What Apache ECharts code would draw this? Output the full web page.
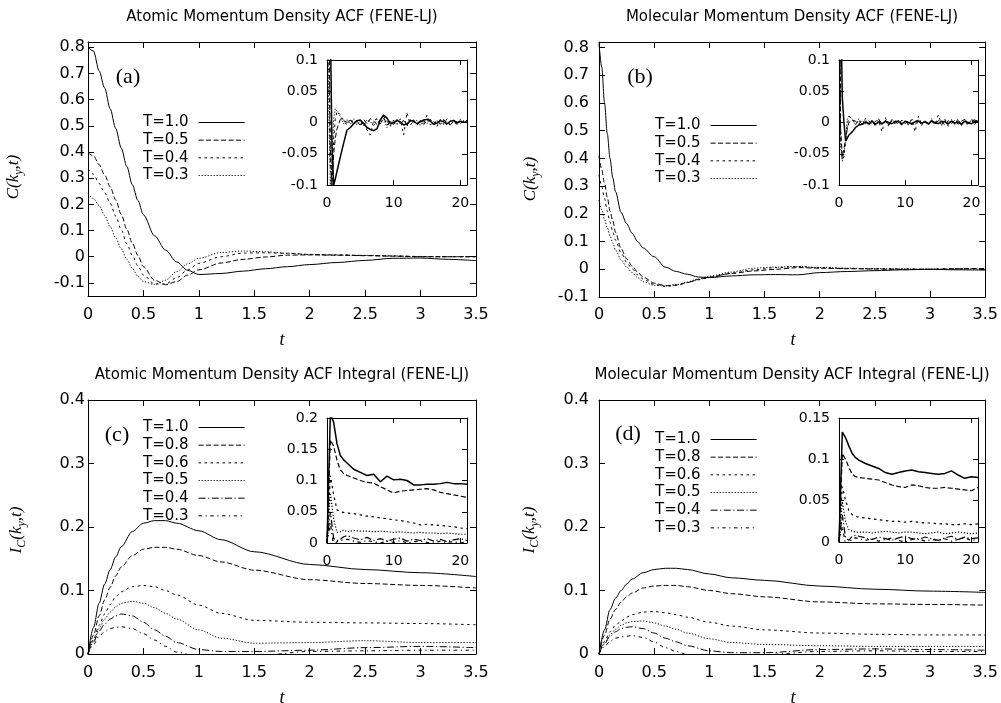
<!DOCTYPE html>
<html><head><meta charset="utf-8">
<script src="https://cdn.jsdelivr.net/npm/echarts@6/dist/echarts.min.js"></script>
<style>html,body{margin:0;padding:0;background:#fff}#c{width:1001px;height:703px}</style>
</head><body><div id="c"></div><script>
// ---------- tick labels ----------
const xTicksMain=[0,0.5,1,1.5,2,2.5,3,3.5];
const yTicksAB=[-0.1,0,0.1,0.2,0.3,0.4,0.5,0.6,0.7,0.8];
const yTicksCD=[0,0.1,0.2,0.3,0.4];
const xTicksInset=[0,10,20];
const yTicksInsetAB=[-0.1,-0.05,0,0.05,0.1];
const yTicksInsetC=[0,0.05,0.1,0.15,0.2];
const yTicksInsetD=[0,0.05,0.1,0.15];

// ---------- panel (a) main ----------
const tA=[0,0.05,0.1,0.15,0.2,0.25,0.3,0.35,0.4,0.45,0.5,0.6,0.7,0.8,0.9,1.0,1.2,1.4,1.6,1.8,2.0,2.25,2.5,2.75,3.0,3.25,3.5];
const a_T10=[0.8,0.785,0.71,0.645,0.565,0.49,0.415,0.345,0.275,0.215,0.16,0.08,0.025,-0.02,-0.052,-0.068,-0.064,-0.055,-0.046,-0.038,-0.03,-0.022,-0.014,-0.006,-0.005,-0.01,-0.015];
const a_T05=[0.397,0.385,0.352,0.312,0.267,0.217,0.162,0.105,0.052,0.005,-0.038,-0.09,-0.107,-0.095,-0.07,-0.05,-0.024,-0.01,-0.001,0.006,0.007,0.006,0.004,0.002,0.0,0.0,0.0];
const a_T04=[0.335,0.315,0.28,0.245,0.204,0.155,0.103,0.05,0.005,-0.035,-0.07,-0.104,-0.104,-0.08,-0.05,-0.025,0.0,0.014,0.015,0.013,0.009,0.007,0.005,0.003,0.001,0.0,0.0];
const a_T03=[0.24,0.222,0.196,0.158,0.115,0.072,0.03,-0.01,-0.045,-0.075,-0.095,-0.106,-0.09,-0.057,-0.027,-0.006,0.016,0.022,0.019,0.013,0.008,0.006,0.005,0.003,0.0,0.0,0.001];

// ---------- panel (b) main ----------
const tB=[0,0.025,0.05,0.075,0.1,0.125,0.15,0.2,0.25,0.3,0.35,0.4,0.5,0.6,0.7,0.8,0.9,1.0,1.2,1.4,1.6,1.8,2.0,2.25,2.5,2.75,3.0,3.25,3.5];
const b_T10=[0.815,0.73,0.6,0.49,0.4,0.33,0.28,0.205,0.165,0.13,0.1,0.077,0.045,0.008,-0.008,-0.018,-0.028,-0.03,-0.024,-0.02,-0.019,-0.02,-0.012,-0.008,-0.005,-0.002,0.0,-0.002,-0.003];
const b_T05=[0.41,0.36,0.31,0.26,0.21,0.175,0.133,0.075,0.038,0.012,-0.01,-0.028,-0.05,-0.059,-0.057,-0.048,-0.037,-0.028,-0.015,-0.006,0.0,0.006,0.004,0.002,0.001,0.0,0.0,0.002,0.003];
const b_T04=[0.34,0.3,0.255,0.21,0.17,0.135,0.105,0.06,0.025,0.002,-0.02,-0.035,-0.055,-0.062,-0.058,-0.048,-0.038,-0.03,-0.014,-0.002,0.006,0.01,0.006,0.003,0.002,0.001,0.0,0.002,0.003];
const b_T03=[0.25,0.215,0.18,0.15,0.12,0.095,0.07,0.035,0.008,-0.012,-0.03,-0.045,-0.058,-0.06,-0.055,-0.046,-0.035,-0.025,-0.01,0.004,0.008,0.01,0.006,0.004,0.002,0.001,0.0,0.001,0.002];

// ---------- panels (c),(d) main ----------
const tC=[0,0.05,0.1,0.15,0.2,0.25,0.3,0.4,0.5,0.6,0.7,0.8,1.0,1.2,1.5,2.0,2.5,3.0,3.5];
const c_T10=[0,0.042,0.08,0.11,0.133,0.153,0.169,0.193,0.206,0.21,0.21,0.206,0.194,0.18,0.161,0.141,0.133,0.128,0.122];
const c_T08=[0,0.03,0.06,0.085,0.105,0.123,0.137,0.155,0.165,0.168,0.168,0.165,0.155,0.145,0.132,0.117,0.111,0.108,0.104];
const c_T06=[0,0.024,0.045,0.063,0.078,0.09,0.098,0.106,0.108,0.106,0.1,0.093,0.077,0.064,0.053,0.05,0.049,0.048,0.046];
const c_T05=[0,0.021,0.04,0.055,0.066,0.074,0.08,0.083,0.08,0.073,0.064,0.055,0.038,0.025,0.017,0.018,0.021,0.018,0.018];
const c_T04=[0,0.019,0.036,0.047,0.055,0.06,0.063,0.06,0.05,0.038,0.028,0.018,0.007,0.004,0.004,0.006,0.01,0.012,0.01];
const c_T03=[0,0.015,0.028,0.035,0.04,0.042,0.043,0.04,0.032,0.022,0.012,0.003,-0.005,-0.008,-0.003,0.004,0.005,0.006,0.006];
const d_T10=[0,0.038,0.07,0.088,0.1,0.11,0.118,0.128,0.133,0.135,0.135,0.133,0.126,0.12,0.116,0.107,0.102,0.099,0.097];
const d_T08=[0,0.03,0.055,0.07,0.082,0.09,0.096,0.104,0.107,0.108,0.108,0.106,0.1,0.095,0.09,0.082,0.079,0.078,0.077];
const d_T06=[0,0.02,0.035,0.045,0.052,0.058,0.062,0.066,0.067,0.065,0.062,0.058,0.05,0.044,0.038,0.033,0.031,0.03,0.03];
const d_T05=[0,0.017,0.03,0.039,0.045,0.049,0.051,0.052,0.049,0.044,0.039,0.033,0.024,0.018,0.015,0.013,0.012,0.012,0.012];
const d_T04=[0,0.016,0.028,0.035,0.04,0.042,0.043,0.04,0.033,0.025,0.019,0.013,0.005,0.002,0.002,0.007,0.008,0.007,0.006];
const d_T03=[0,0.012,0.02,0.025,0.027,0.028,0.029,0.026,0.019,0.01,0.004,-0.001,-0.005,-0.004,-0.001,0.004,0.005,0.004,0.004];

// ---------- insets (a),(b) ----------
const tIA=[0,0.25,0.5,0.75,1,1.25,1.5,2,2.5,3,3.5,4,4.5,5,5.5,6,6.5,7,7.5,8,8.5,9,9.5,10,10.5,11,11.5,12,12.5,13,13.5,14,14.5,15,15.5,16,16.5,17,17.5,18,18.5,19,19.5,20,20.5,21];
const ia_T10=[0.8,0.55,0.16,-0.04,-0.1,-0.09,-0.078,-0.055,-0.033,-0.012,-0.008,-0.002,0.003,0.004,-0.002,-0.008,-0.011,-0.013,-0.01,0.004,0.012,0.007,-0.002,0.0,0.003,0.001,-0.004,-0.002,0.003,0.002,-0.002,0.001,0.004,0.005,0.002,-0.003,-0.001,0.003,0.001,-0.002,0.002,0.003,-0.001,0.002,0.001,0.0];
const ia_T05=[0.4,0.2,-0.04,-0.1,-0.05,-0.025,-0.01,0.005,0.003,0.0,0.004,-0.003,0.002,-0.004,0.005,-0.002,0.006,0.002,-0.003,0.005,0.008,-0.004,0.002,-0.003,0.005,-0.002,0.003,-0.004,0.002,0.004,-0.002,0.003,-0.003,0.002,0.005,-0.002,0.003,-0.003,0.004,0.0,-0.004,0.003,0.001,-0.002,0.003,0.0];
const ia_T04=[0.335,0.12,-0.07,-0.1,-0.025,0.005,0.018,0.012,0.003,-0.004,0.006,-0.002,0.004,-0.006,0.002,-0.012,-0.02,0.003,0.006,-0.004,0.01,0.002,-0.006,0.004,-0.003,0.006,-0.02,0.016,-0.004,0.003,-0.005,0.004,-0.002,0.012,-0.004,0.002,-0.006,0.005,-0.003,0.006,-0.005,0.003,-0.004,0.005,-0.002,0.004];
const ia_T03=[0.24,0.03,-0.1,-0.06,0.005,0.022,0.02,0.01,-0.002,0.005,-0.003,0.006,-0.004,0.003,-0.005,0.004,0.002,-0.006,0.005,-0.002,0.006,-0.008,0.003,-0.004,0.005,-0.003,0.004,-0.006,0.006,-0.002,0.004,-0.005,0.003,-0.002,0.005,-0.004,0.003,-0.002,0.005,-0.004,0.003,0.004,-0.003,0.005,-0.001,0.003];
const ib_T10=[0.82,0.2,0.04,0.0,-0.03,-0.025,-0.02,-0.015,-0.008,-0.004,-0.003,0.001,-0.002,0.002,-0.003,0.001,-0.002,0.002,0.0,-0.002,0.002,0.001,-0.002,0.002,0.0,-0.002,0.001,0.002,-0.001,0.001,-0.002,0.002,0.0,-0.002,0.002,0.001,-0.002,0.002,-0.001,0.001,-0.003,0.002,0.0,-0.002,0.002,0.001];
const ib_T05=[0.41,-0.01,-0.055,-0.058,-0.028,-0.01,0.0,0.004,0.002,-0.003,0.004,-0.002,0.003,-0.004,0.002,0.005,-0.003,0.002,-0.004,0.003,0.001,-0.003,0.004,-0.002,0.003,-0.004,0.002,0.004,-0.003,0.002,-0.002,0.004,-0.003,0.003,0.001,-0.004,0.003,-0.002,0.004,-0.003,0.002,0.005,-0.002,0.003,0.004,0.002];
const ib_T04=[0.34,-0.025,-0.06,-0.055,-0.03,-0.005,0.01,0.006,-0.003,0.004,-0.005,0.007,-0.003,0.004,-0.006,0.003,-0.015,0.008,-0.004,0.005,-0.003,0.004,-0.005,0.003,-0.004,0.005,-0.015,0.01,-0.003,0.004,-0.005,0.003,-0.004,0.012,-0.003,0.005,-0.006,0.004,-0.003,0.006,-0.004,0.003,-0.005,0.006,-0.002,0.004];
const ib_T03=[0.25,-0.04,-0.062,-0.05,-0.025,0.005,0.01,0.005,-0.004,0.006,-0.003,0.005,-0.005,0.003,-0.004,0.006,-0.003,0.004,-0.006,0.005,-0.002,0.004,-0.005,0.003,-0.004,0.006,-0.003,0.004,-0.005,0.003,-0.004,0.006,-0.002,0.004,-0.005,0.003,-0.004,0.005,-0.003,0.004,-0.005,0.006,-0.003,0.004,-0.004,0.005];

// ---------- insets (c),(d) ----------
const tIC=[0,0.5,1,1.5,2,2.5,3,4,5,6,7,8,9,10,11,12,13,14,15,16,17,18,19,20,21];
const ic_T10=[0,0.206,0.193,0.159,0.14,0.133,0.128,0.118,0.113,0.108,0.11,0.098,0.107,0.101,0.102,0.1,0.093,0.093,0.094,0.094,0.095,0.097,0.095,0.095,0.094];
const ic_T08=[0,0.165,0.155,0.132,0.117,0.111,0.108,0.104,0.1,0.097,0.096,0.09,0.085,0.08,0.083,0.084,0.085,0.086,0.087,0.085,0.081,0.079,0.077,0.075,0.073];
const ic_T06=[0,0.108,0.077,0.053,0.05,0.049,0.048,0.047,0.045,0.043,0.042,0.04,0.039,0.037,0.036,0.034,0.032,0.029,0.03,0.029,0.028,0.027,0.026,0.024,0.023];
const ic_T05=[0,0.08,0.038,0.017,0.018,0.021,0.018,0.02,0.019,0.019,0.018,0.019,0.018,0.017,0.018,0.017,0.016,0.017,0.016,0.016,0.015,0.016,0.015,0.014,0.014];
const ic_T04=[0,0.05,0.007,0.004,0.006,0.01,0.012,0.008,0.005,0.009,0.004,0.007,0.003,0.006,0.008,0.003,0.006,0.004,0.007,0.003,0.006,0.002,0.005,0.007,0.004];
const ic_T03=[0,0.032,-0.005,0.002,0.004,0.005,0.006,0.003,0.001,0.004,0.002,0.0,0.003,0.001,0.004,0.0,0.002,0.003,0.001,0.0,0.003,0.001,0.002,0.0,0.002];
const id_T10=[0,0.133,0.126,0.116,0.107,0.102,0.099,0.095,0.092,0.089,0.084,0.082,0.084,0.086,0.087,0.085,0.084,0.083,0.082,0.083,0.086,0.081,0.077,0.079,0.078];
const id_T08=[0,0.107,0.1,0.09,0.082,0.079,0.078,0.077,0.076,0.075,0.072,0.069,0.067,0.066,0.069,0.068,0.066,0.065,0.065,0.066,0.065,0.064,0.063,0.062,0.066];
const id_T06=[0,0.067,0.05,0.038,0.033,0.031,0.03,0.029,0.028,0.027,0.026,0.025,0.025,0.024,0.025,0.024,0.023,0.023,0.022,0.022,0.021,0.021,0.022,0.021,0.022];
const id_T05=[0,0.049,0.024,0.015,0.013,0.012,0.012,0.012,0.011,0.012,0.013,0.012,0.011,0.012,0.012,0.011,0.01,0.011,0.012,0.01,0.011,0.012,0.011,0.01,0.011];
const id_T04=[0,0.033,0.005,0.002,0.007,0.008,0.007,0.005,0.003,0.006,0.004,0.002,0.005,0.007,0.004,0.003,0.006,0.004,0.002,0.005,0.007,0.003,0.006,0.004,0.005];
const id_T03=[0,0.019,-0.004,-0.001,0.004,0.005,0.004,0.002,0.004,0.001,0.003,0.005,0.002,0.0,0.003,0.004,0.001,0.003,0.002,0.004,0.001,0.003,0.005,0.002,0.003];

// ---------- styles ----------
const SOLID='solid', LT1=[5,2.5], LT2=[2.5,3.5], LT3=[1.2,1.8], LT4=[7,2.5,1.2,2.5], LT5=[3.5,3.5,1.2,3.5];
const SANS='DejaVu Sans', SERIF='Liberation Serif';

const grids=[
 {left:88,top:42,width:388,height:254},
 {left:599,top:42,width:388,height:255},
 {left:88,top:400,width:388,height:254},
 {left:599,top:400,width:388,height:254},
 {left:327,top:60,width:140,height:125,show:true,backgroundColor:'#fff',borderWidth:0},
 {left:839,top:60,width:139,height:125,show:true,backgroundColor:'#fff',borderWidth:0},
 {left:327,top:418,width:140,height:125,show:true,backgroundColor:'#fff',borderWidth:0},
 {left:839,top:418,width:139,height:124,show:true,backgroundColor:'#fff',borderWidth:0}
];
const xr=[[0,3.5],[0,3.5],[0,3.5],[0,3.5],[0,21],[0,21],[0,21],[0,21]];
const yr=[[-0.15,0.82],[-0.1,0.82],[0,0.4],[0,0.4],[-0.1,0.1],[-0.1,0.1],[0,0.2],[0,0.15]];
const xt=[xTicksMain,xTicksMain,xTicksMain,xTicksMain,xTicksInset,xTicksInset,xTicksInset,xTicksInset];
const yt=[yTicksAB,yTicksAB,yTicksCD,yTicksCD,yTicksInsetAB,yTicksInsetAB,yTicksInsetC,yTicksInsetD];
const yMargin=[3,10,3,10,9,9,9,9];
const xMargin=[11,10,11,11,11,11,11,11];

function ax(ticks,show,fs,margin,len){
 return {
  axisLine:{show:true,onZero:false,lineStyle:{color:'#000',width:1}},
  axisTick:{show:true,inside:true,length:len,customValues:ticks,lineStyle:{color:'#000',width:1}},
  axisLabel:{show:show,customValues:ticks,fontFamily:SANS,fontSize:fs,color:'#000',margin:margin},
  splitLine:{show:false}
 };
}
const xAxis=[], yAxis=[];
for(let i=0;i<8;i++){
 const ins=i>=4, fs=ins?14:16, len=ins?5:6;
 xAxis.push(Object.assign({type:'value',gridIndex:i,min:xr[i][0],max:xr[i][1],position:'bottom'},ax(xt[i],true,fs,xMargin[i],len)));
 yAxis.push(Object.assign({type:'value',gridIndex:i,min:yr[i][0],max:yr[i][1],position:'left'},ax(yt[i],true,fs,yMargin[i],len)));
}
for(let i=0;i<8;i++){
 const ins=i>=4, len=ins?5:6;
 xAxis.push(Object.assign({type:'value',gridIndex:i,min:xr[i][0],max:xr[i][1],position:'top'},ax(xt[i],false,14,8,len)));
 yAxis.push(Object.assign({type:'value',gridIndex:i,min:yr[i][0],max:yr[i][1],position:'right'},ax(yt[i],false,14,8,len)));
}

function mk(name,xs,ys,gi,dash,w,smooth){
 return {name:name,type:'line',xAxisIndex:gi,yAxisIndex:gi,data:xs.map((x,i)=>[x,ys[i]]),
  symbol:'none',showSymbol:false,smooth:smooth,smoothMonotone:'x',clip:true,silent:true,z:gi>=4?5:2,
  lineStyle:{color:'#000',width:w,type:dash},itemStyle:{color:'#000'}};
}
const series=[
 mk('a#T=1.0',tA,a_T10,0,SOLID,1,0.3), mk('a#T=0.5',tA,a_T05,0,LT1,1,0.3),
 mk('a#T=0.4',tA,a_T04,0,LT2,1,0.3), mk('a#T=0.3',tA,a_T03,0,LT3,1,0.3),
 mk('b#T=1.0',tB,b_T10,1,SOLID,1,0.3), mk('b#T=0.5',tB,b_T05,1,LT1,1,0.3),
 mk('b#T=0.4',tB,b_T04,1,LT2,1,0.3), mk('b#T=0.3',tB,b_T03,1,LT3,1,0.3),
 mk('c#T=1.0',tC,c_T10,2,SOLID,1,0.3), mk('c#T=0.8',tC,c_T08,2,LT1,1,0.3),
 mk('c#T=0.6',tC,c_T06,2,LT2,1,0.3), mk('c#T=0.5',tC,c_T05,2,LT3,1,0.3),
 mk('c#T=0.4',tC,c_T04,2,LT4,1,0.3), mk('c#T=0.3',tC,c_T03,2,LT5,1,0.3),
 mk('d#T=1.0',tC,d_T10,3,SOLID,1,0.3), mk('d#T=0.8',tC,d_T08,3,LT1,1,0.3),
 mk('d#T=0.6',tC,d_T06,3,LT2,1,0.3), mk('d#T=0.5',tC,d_T05,3,LT3,1,0.3),
 mk('d#T=0.4',tC,d_T04,3,LT4,1,0.3), mk('d#T=0.3',tC,d_T03,3,LT5,1,0.3),
 mk('ai#T=1.0',tIA,ia_T10,4,SOLID,1.5,false), mk('ai#T=0.5',tIA,ia_T05,4,LT1,1,false),
 mk('ai#T=0.4',tIA,ia_T04,4,LT2,1,false), mk('ai#T=0.3',tIA,ia_T03,4,LT3,1,false),
 mk('bi#T=1.0',tIA,ib_T10,5,SOLID,1.5,false), mk('bi#T=0.5',tIA,ib_T05,5,LT1,1,false),
 mk('bi#T=0.4',tIA,ib_T04,5,LT2,1,false), mk('bi#T=0.3',tIA,ib_T03,5,LT3,1,false),
 mk('ci#T=1.0',tIC,ic_T10,6,SOLID,1.5,false), mk('ci#T=0.8',tIC,ic_T08,6,LT1,1.2,false),
 mk('ci#T=0.6',tIC,ic_T06,6,LT2,1.2,false), mk('ci#T=0.5',tIC,ic_T05,6,LT3,1.2,false),
 mk('ci#T=0.4',tIC,ic_T04,6,LT4,1.2,false), mk('ci#T=0.3',tIC,ic_T03,6,LT5,1.2,false),
 mk('di#T=1.0',tIC,id_T10,7,SOLID,1.5,false), mk('di#T=0.8',tIC,id_T08,7,LT1,1.2,false),
 mk('di#T=0.6',tIC,id_T06,7,LT2,1.2,false), mk('di#T=0.5',tIC,id_T05,7,LT3,1.2,false),
 mk('di#T=0.4',tIC,id_T04,7,LT4,1.2,false), mk('di#T=0.3',tIC,id_T03,7,LT5,1.2,false)
];

function lg(prefix,names,left,top){
 return {data:names.map(n=>prefix+'#'+n),left:left,top:top,orient:'vertical',align:'right',
  itemWidth:46,itemHeight:14,itemGap:2.67,padding:0,selectedMode:false,
  formatter:n=>n.split('#')[1],
  lineStyle:{width:1},
  itemStyle:{opacity:0,color:'rgba(0,0,0,0)',borderColor:'rgba(0,0,0,0)',borderWidth:0},
  textStyle:{fontFamily:SANS,fontSize:15,color:'#000',lineHeight:14,padding:[0,5,0,0]}};
}
const namesAB=['T=1.0','T=0.5','T=0.4','T=0.3'];
const namesCD=['T=1.0','T=0.8','T=0.6','T=0.5','T=0.4','T=0.3'];
const legend=[lg('a',namesAB,143,115),lg('b',namesAB,655,118),lg('c',namesCD,143,420),lg('d',namesCD,655,432)];

function txt(x,y,text,font,size){
 return {type:'text',x:x,y:y,silent:true,style:{text:text,fontFamily:font,fontSize:size,fill:'#000',align:'center',verticalAlign:'middle'}};
}
function itxt(x,y,text){
 return {type:'text',x:x,y:y,silent:true,style:{text:text,fontFamily:SERIF,fontStyle:'italic',fontSize:18,fill:'#000',align:'center',verticalAlign:'middle'}};
}
const rich={i:{fontFamily:SERIF,fontStyle:'italic',fontSize:17,lineHeight:22,fill:'#000',color:'#000'},
            s:{fontFamily:SERIF,fontStyle:'italic',fontSize:12,lineHeight:13,verticalAlign:'bottom',fill:'#000',color:'#000'}};
function ylab(x,y,text){
 return {type:'text',x:x,y:y,rotation:Math.PI/2,silent:true,style:{text:text,rich:rich,align:'center',verticalAlign:'middle',fill:'#000'}};
}
const graphic=[
 txt(282,17,'Atomic Momentum Density ACF (FENE-LJ)',SANS,15),
 txt(792,17,'Molecular Momentum Density ACF (FENE-LJ)',SANS,15),
 txt(282,375,'Atomic Momentum Density ACF Integral (FENE-LJ)',SANS,15),
 txt(792,375,'Molecular Momentum Density ACF Integral (FENE-LJ)',SANS,15),
 txt(128,77,'(a)',SERIF,22), txt(640,77,'(b)',SERIF,22),
 txt(117,435,'(c)',SERIF,22), txt(628,434,'(d)',SERIF,22),
 itxt(282,340,'t'), itxt(793,340,'t'), itxt(282,698,'t'), itxt(793,698,'t'),
 ylab(14,177,'{i|C(k}{s|y}{i|,t)}'), ylab(531,179,'{i|C(k}{s|y}{i|,t)}'),
 ylab(17,530,'{i|I}{s|C}{i|(k}{s|y}{i|,t)}'), ylab(530,530,'{i|I}{s|C}{i|(k}{s|y}{i|,t)}')
];

const chart=echarts.init(document.getElementById('c'),null,{renderer:'canvas'});
chart.setOption({animation:false,backgroundColor:'#fff',grid:grids,xAxis:xAxis,yAxis:yAxis,series:series,legend:legend,graphic:graphic});
</script></body></html>
